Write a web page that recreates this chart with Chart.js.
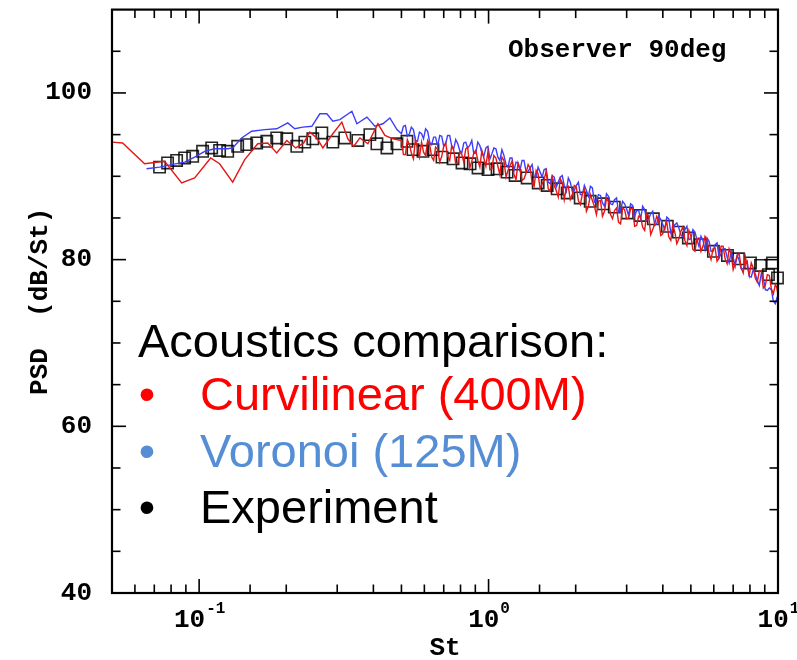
<!DOCTYPE html>
<html>
<head>
<meta charset="utf-8">
<script src="https://cdn.jsdelivr.net/npm/chart.js@4.4.1/dist/chart.umd.min.js"></script>
<style>
  html, body { margin: 0; padding: 0; background: #ffffff; }
  #wrap { position: relative; width: 797px; height: 660px; }
</style>
</head>
<body>
<div id="wrap"><canvas id="c" width="797" height="660"></canvas></div>
<script>
// ---------------- DATA ----------------
// Curvilinear (400M) - low Strouhal part
const redLowSt  = [0.050, 0.0544, 0.0648, 0.0760, 0.0870, 0.0965, 0.1096, 0.1177, 0.1306, 0.1437, 0.1594, 0.1726, 0.1854, 0.2008, 0.2157, 0.2299, 0.2412, 0.2551, 0.2675, 0.2897, 0.3112, 0.3264, 0.3424, 0.3593, 0.3829, 0.4147, 0.4385, 0.4673];
const redLowPsd = [94.1, 94.0, 91.5, 91.8, 89.2, 89.8, 92.2, 91.5, 89.3, 92.0, 93.9, 94.0, 92.8, 94.3, 93.4, 94.0, 95.3, 94.6, 93.4, 95.1, 96.5, 94.5, 93.6, 94.6, 93.9, 96.3, 94.9, 94.5];

// Dense sampling for St >= 0.5 (shared by both simulations), two interleaved sets
const denseSt = [0.500, 0.516, 0.533, 0.550, 0.568, 0.587, 0.606, 0.626, 0.646, 0.667, 0.689, 0.711, 0.734, 0.758, 0.783, 0.808, 0.834, 0.861, 0.889, 0.918, 0.948, 0.979, 1.011, 1.043, 1.077, 1.112, 1.149, 1.186, 1.224, 1.264, 1.305, 1.348, 1.392, 1.437, 1.483, 1.532, 1.581, 1.633, 1.686, 1.741, 1.797, 1.856, 1.916, 1.978, 2.043, 2.109, 2.178, 2.248, 2.321, 2.397, 2.475, 2.555, 2.638, 2.724, 2.812, 2.904, 2.998, 3.096, 3.196, 3.300, 3.407, 3.518, 3.633, 3.751, 3.873, 3.998, 4.128, 4.263, 4.401, 4.544, 4.692, 4.845, 5.002, 5.165, 5.333, 5.506, 5.685, 5.870, 6.061, 6.258, 6.461, 6.671, 6.888, 7.112, 7.343, 7.582, 7.828, 8.083, 8.345, 8.617, 8.897, 9.186, 9.485, 9.793, 10.0];
const midSt = [0.508, 0.524, 0.541, 0.559, 0.577, 0.596, 0.616, 0.636, 0.656, 0.678, 0.700, 0.722, 0.746, 0.770, 0.795, 0.821, 0.847, 0.875, 0.903, 0.933, 0.963, 0.995, 1.027, 1.060, 1.094, 1.130, 1.167, 1.205, 1.244, 1.284, 1.326, 1.370, 1.414, 1.460, 1.507, 1.556, 1.607, 1.659, 1.713, 1.769, 1.826, 1.886, 1.947, 2.010, 2.076, 2.143, 2.213, 2.284, 2.359, 2.436, 2.515, 2.596, 2.681, 2.768, 2.858, 2.951, 3.046, 3.146, 3.248, 3.353, 3.462, 3.575, 3.691, 3.811, 3.935, 4.063, 4.195, 4.331, 4.472, 4.617, 4.768, 4.923, 5.083, 5.248, 5.419, 5.595, 5.777, 5.965, 6.159, 6.359, 6.566, 6.779, 7.000, 7.227, 7.462, 7.705, 7.955, 8.214, 8.480, 8.756, 9.040, 9.334, 9.638, 9.896];

const redDensePsd = [94.3, 92.6, 93.8, 92.1, 93.4, 94.1, 92.5, 93.8, 91.9, 93.2, 92.4, 94.0, 91.9, 93.1, 91.6, 92.6, 93.3, 91.0, 92.8, 91.9, 93.1, 91.2, 90.8, 92.5, 91.2, 92.3, 89.9, 91.3, 90.2, 91.6, 89.5, 90.4, 91.0, 88.8, 90.3, 89.1, 90.6, 88.2, 88.9, 87.5, 89.2, 88.6, 87.2, 88.9, 87.1, 87.9, 85.8, 87.8, 86.4, 87.0, 85.2, 87.3, 85.4, 85.9, 84.5, 86.2, 84.9, 86.1, 84.0, 85.2, 83.9, 85.5, 83.0, 84.3, 84.7, 83.1, 84.5, 82.3, 83.3, 82.5, 83.9, 81.7, 82.8, 81.0, 82.6, 81.6, 82.4, 80.0, 81.4, 80.2, 81.6, 79.5, 80.7, 79.6, 80.7, 78.4, 79.3, 79.6, 77.8, 78.6, 76.6, 78.2, 76.5, 77.0, 75.8];
const redMidPsd = [92.6, 94.4, 92.8, 94.4, 92.3, 92.9, 94.3, 92.3, 93.5, 91.7, 93.6, 92.4, 93.7, 91.5, 92.9, 91.7, 93.5, 91.8, 93.1, 91.1, 92.2, 93.0, 90.9, 92.2, 90.2, 91.9, 90.7, 91.8, 89.6, 90.9, 89.7, 91.4, 89.2, 90.7, 88.5, 89.6, 88.5, 89.9, 88.3, 89.7, 87.2, 88.8, 87.8, 88.7, 86.6, 88.4, 86.4, 87.1, 85.4, 87.1, 85.8, 87.0, 84.9, 86.2, 84.3, 86.0, 85.0, 86.1, 84.1, 85.1, 83.5, 85.2, 83.6, 85.2, 82.9, 83.9, 82.7, 84.2, 81.9, 83.4, 82.3, 83.5, 81.2, 82.5, 81.0, 82.8, 80.8, 81.3, 79.8, 81.6, 80.1, 81.3, 78.8, 80.5, 79.0, 80.4, 78.1, 79.0, 77.3, 78.7, 76.9, 78.1, 75.9, 76.7];

// Voronoi (125M)
const blueLowSt  = [0.0658, 0.0730, 0.0803, 0.0891, 0.0965, 0.1045, 0.1131, 0.1255, 0.1306, 0.1403, 0.1519, 0.1685, 0.1854, 0.2024, 0.2140, 0.2281, 0.2451, 0.2612, 0.2762, 0.2897, 0.3063, 0.3371, 0.3508, 0.3799, 0.4049, 0.4314, 0.4561, 0.4824];
const blueLowPsd = [90.9, 91.1, 91.4, 91.7, 92.3, 93.0, 93.3, 93.3, 93.4, 94.6, 95.4, 95.6, 95.7, 96.4, 95.7, 95.9, 96.0, 97.5, 97.5, 96.6, 96.8, 97.8, 96.3, 97.1, 96.0, 96.3, 97.0, 95.6];
const blueDensePsd = [95.1, 96.1, 95.1, 95.6, 94.2, 95.1, 95.7, 94.1, 94.7, 93.6, 94.8, 93.9, 94.9, 93.3, 93.9, 92.8, 94.1, 93.7, 92.7, 94.1, 92.8, 93.4, 92.1, 93.4, 92.3, 93.2, 91.4, 92.2, 90.7, 91.6, 91.9, 90.5, 91.0, 89.9, 91.1, 89.9, 90.9, 89.1, 89.9, 89.3, 90.1, 88.2, 89.3, 88.3, 89.3, 87.8, 88.3, 88.8, 86.9, 87.8, 86.8, 87.9, 86.7, 87.2, 85.7, 87.0, 86.1, 86.7, 85.2, 85.9, 86.4, 84.7, 85.5, 84.1, 85.2, 84.2, 85.1, 83.2, 84.2, 83.8, 82.7, 84.0, 82.5, 83.3, 81.6, 82.3, 82.6, 81.0, 81.8, 80.2, 81.3, 80.3, 81.0, 79.2, 79.9, 78.9, 79.8, 77.9, 78.3, 76.9, 77.8, 76.3, 76.4, 74.7, 74.8];
const blueMidPsd = [96.0, 94.8, 95.9, 94.3, 95.3, 94.5, 95.4, 93.8, 94.7, 94.9, 93.6, 94.9, 93.6, 94.4, 93.1, 94.0, 93.4, 94.3, 92.8, 93.7, 92.4, 93.6, 92.7, 93.3, 91.9, 92.5, 91.1, 92.2, 91.7, 90.7, 91.9, 90.6, 91.4, 89.9, 90.5, 90.8, 89.3, 90.1, 88.7, 89.9, 88.9, 89.8, 88.2, 88.9, 87.8, 88.9, 87.6, 88.6, 87.1, 87.7, 86.4, 87.6, 86.6, 87.4, 85.9, 86.7, 85.3, 86.5, 85.9, 84.9, 86.0, 84.9, 85.8, 84.3, 84.8, 83.6, 84.9, 83.6, 84.4, 83.0, 83.6, 82.4, 83.6, 82.4, 82.8, 81.2, 82.2, 81.0, 82.0, 80.7, 81.3, 79.6, 80.3, 80.5, 78.9, 79.5, 78.0, 78.8, 77.5, 78.3, 76.4, 76.6, 75.0, 75.3];

// Experiment
const expSt  = [0.0730, 0.0778, 0.0836, 0.0891, 0.0950, 0.1028, 0.1105, 0.1177, 0.1255, 0.1359, 0.1460, 0.1581, 0.1713, 0.1854, 0.2008, 0.2175, 0.2318, 0.2470, 0.2654, 0.2897, 0.3187, 0.3536, 0.3890, 0.4114, 0.4455, 0.4824, 0.5224, 0.5480, 0.5935, 0.6427, 0.6904, 0.7539, 0.8096, 0.8630, 0.9198, 0.9961, 1.070, 1.159, 1.235, 1.359, 1.484, 1.594, 1.726, 1.869, 2.073, 2.245, 2.490, 2.719, 3.015, 3.343, 3.709, 4.146, 4.526, 4.901, 5.393, 5.982, 6.689, 7.300, 8.034, 8.700, 9.271, 9.572, 9.96];
const expPsd = [91.1, 91.6, 91.9, 92.2, 92.4, 93.0, 93.4, 93.1, 93.0, 93.6, 93.8, 94.0, 94.2, 94.6, 94.5, 93.6, 94.1, 94.5, 95.2, 94.1, 94.6, 94.3, 95.0, 93.9, 93.4, 93.9, 94.2, 93.2, 93.0, 93.2, 92.3, 92.1, 91.6, 91.5, 91.0, 90.8, 90.9, 90.5, 90.1, 89.8, 89.2, 88.9, 88.5, 88.0, 87.4, 87.0, 86.7, 86.3, 85.6, 85.3, 84.9, 84.0, 83.3, 82.6, 81.8, 81.0, 80.5, 80.1, 79.6, 79.3, 78.2, 79.6, 77.8];

// Axis tick labels
const yTickLabels = [40, 60, 80, 100];
const xTickValues = [0.1, 1, 10];
const xTickExps = ['-1', '0', '1'];

// Legend text
const legendTitle = 'Acoustics comparison:';
const legendItems = ['Curvilinear (400M)', 'Voronoi (125M)', 'Experiment'];
const legendColors = ['#ff0000', '#558ed5', '#000000'];
const annotationText = 'Observer 90deg';

// ---------------- BUILD ----------------
const toPts = (xs, ys) => xs.map((v, i) => ({ x: v, y: ys[i] }));
const byX = (a, b) => a.x - b.x;
const redPts = toPts(redLowSt, redLowPsd)
  .concat(toPts(denseSt, redDensePsd), toPts(midSt, redMidPsd)).sort(byX);
const bluePts = toPts(blueLowSt, blueLowPsd)
  .concat(toPts(denseSt, blueDensePsd), toPts(midSt, blueMidPsd)).sort(byX);
const expPts = toPts(expSt, expPsd);

const MONO = '"Liberation Mono", "Courier New", "DejaVu Sans Mono", monospace';
const SANS = '"Liberation Sans", Arial, sans-serif';

const decorPlugin = {
  id: 'decor',
  afterDraw(chart) {
    const { ctx, chartArea: { left, right, top, bottom }, scales: { x, y } } = chart;
    ctx.save();
    ctx.strokeStyle = '#000';
    ctx.lineCap = 'butt';
    ctx.lineWidth = 1.6;
    const seg = (x1, y1, x2, y2) => { ctx.beginPath(); ctx.moveTo(x1, y1); ctx.lineTo(x2, y2); ctx.stroke(); };
    x.ticks.forEach(t => {
      const px = x.getPixelForValue(t.value);
      if (px < left + 1 || px > right - 1) return;
      const lg = Math.log10(t.value);
      const major = Math.abs(lg - Math.round(lg)) < 1e-6;
      const L = major ? 14 : 8.5;
      seg(px, bottom, px, bottom - L);
      seg(px, top, px, top + L);
    });
    y.ticks.forEach(t => {
      const py = y.getPixelForValue(t.value);
      if (py < top + 1 || py > bottom - 1) return;
      const major = yTickLabels.includes(t.value);
      const L = major ? 14 : 8.5;
      seg(left, py, left + L, py);
      seg(right, py, right - L, py);
    });
    ctx.lineWidth = 2.2;
    ctx.strokeRect(left, top, right - left, bottom - top);

    // x tick labels with superscripts
    ctx.fillStyle = '#000';
    ctx.textBaseline = 'alphabetic';
    ctx.textAlign = 'left';
    xTickValues.forEach((v, i) => {
      const px = x.getPixelForValue(v);
      ctx.font = 'bold 26px ' + MONO;
      const wb = ctx.measureText('10').width;
      ctx.font = 'bold 16px ' + MONO;
      const we = ctx.measureText(xTickExps[i]).width;
      const start = px - (wb + we) / 2;
      ctx.font = 'bold 26px ' + MONO;
      ctx.fillText('10', start, 627);
      ctx.font = 'bold 16px ' + MONO;
      ctx.fillText(xTickExps[i], start + wb + 1, 613);
    });

    // annotation
    ctx.font = 'bold 26px ' + MONO;
    ctx.fillText(annotationText, 508, 57);

    // legend overlay
    ctx.font = '47px ' + SANS;
    ctx.fillStyle = '#000';
    ctx.fillText(legendTitle, 138, 357);
    const baselines = [410, 467, 523];
    legendItems.forEach((txt, i) => {
      ctx.fillStyle = legendColors[i];
      ctx.textAlign = 'center';
      ctx.fillText('\u2022', 147, baselines[i]);
      ctx.textAlign = 'left';
      ctx.fillText(txt, 200, baselines[i]);
    });
    ctx.restore();
  }
};

new Chart(document.getElementById('c'), {
  type: 'scatter',
  data: {
    datasets: [
      { label: legendItems[0], data: redPts, showLine: true, borderColor: 'rgb(228,22,22)', borderWidth: 1.4, pointRadius: 0, tension: 0, order: 0 },
      { label: legendItems[1], data: bluePts, showLine: true, borderColor: 'rgb(62,62,250)', borderWidth: 1.4, pointRadius: 0, tension: 0, order: 1 },
      { label: legendItems[2], data: expPts, showLine: false, pointStyle: 'rect', pointRadius: 8, borderColor: 'rgba(0,0,0,0.85)', backgroundColor: 'rgba(0,0,0,0)', pointBorderWidth: 1.6, borderWidth: 1.6, order: 2, clip: false }
    ]
  },
  options: {
    responsive: false,
    animation: false,
    devicePixelRatio: 1,
    layout: { padding: { top: 9, right: 19, left: 0, bottom: 0 } },
    plugins: { legend: { display: false }, tooltip: { enabled: false } },
    scales: {
      x: {
        type: 'logarithmic',
        min: 0.05,
        max: 10,
        grid: { display: false },
        border: { display: false },
        ticks: { autoSkip: false, callback: () => '', padding: 0 },
        afterFit(s) { s.height = 67; s.paddingLeft = 0; s.paddingRight = 0; },
        title: { display: true, text: 'St', color: '#000', font: { family: MONO, weight: 'bold', size: 26, lineHeight: 0.9 }, padding: { top: 0, bottom: 0 } }
      },
      y: {
        type: 'linear',
        min: 40,
        max: 110,
        grid: { display: false },
        border: { display: false },
        ticks: {
          stepSize: 5,
          autoSkip: false,
          padding: 12,
          color: '#000',
          font: { family: MONO, weight: 'bold', size: 26 },
          callback: v => (yTickLabels.includes(v) ? String(v) : '')
        },
        afterFit(s) { s.width = 112; s.paddingTop = 0; s.paddingBottom = 0; },
        title: { display: true, text: 'PSD  (dB/St)', color: '#000', font: { family: MONO, weight: 'bold', size: 26 }, padding: { top: 25, bottom: 0 } }
      }
    }
  },
  plugins: [decorPlugin]
});
</script>
</body>
</html>
